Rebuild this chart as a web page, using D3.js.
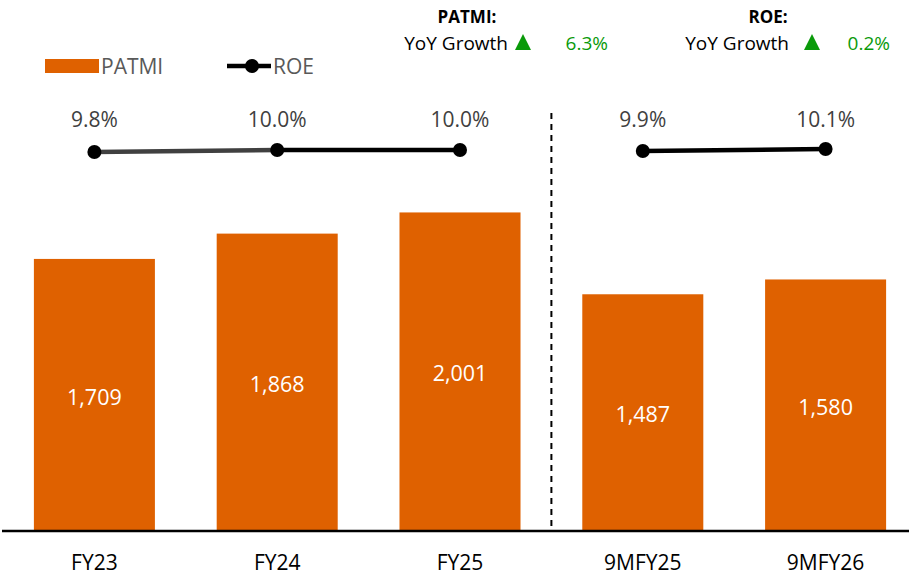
<!DOCTYPE html>
<html>
<head>
<meta charset="utf-8">
<script src="https://cdn.jsdelivr.net/npm/d3@7"></script>
<style>
  html, body { margin: 0; padding: 0; background: #fff; }
  svg { display: block; font-family: "Open Sans", sans-serif; }
</style>
</head>
<body>
<svg id="chart" width="909" height="576"></svg>
<script>
// Periods, PATMI (bars) and ROE (line, %)
const categories = ["FY23", "FY24", "FY25", "9MFY25", "9MFY26"];
const patmi = [1709, 1868, 2001, 1487, 1580];
const roe = [9.8, 10.0, 10.0, 9.9, 10.1];
// ROE line segments: [from index, to index, colour]
const roeSegments = [[0, 1, "#404040"], [1, 2, "#000000"], [3, 4, "#000000"]];
// Headline growth figures
const growthTitles = ["PATMI:", "ROE:"];
const growthLabels = ["YoY Growth", "YoY Growth"];
const growthValues = ["6.3%", "0.2%"];

const svg = d3.select("#chart");
const ORANGE = "#DF6100";
const GREEN = "#0A9A0A";

const x = d3.scaleBand().domain(categories).range([3, 917]).paddingInner(0.338).paddingOuter(0.169);
const y = d3.scaleLinear().domain([0, 3000]).range([531, 53.4]);
const yRoe = d3.scaleLinear().domain([8, 12]).range([170, 130]);
const cx = c => x(c) + x.bandwidth() / 2;

// Bars
svg.append("g").selectAll("rect").data(categories).join("rect")
  .attr("x", c => x(c))
  .attr("y", (c, i) => y(patmi[i]))
  .attr("width", x.bandwidth())
  .attr("height", (c, i) => y(0) - y(patmi[i]))
  .attr("fill", ORANGE);

// Bar value labels
svg.append("g").selectAll("text").data(categories).join("text")
  .attr("x", c => cx(c))
  .attr("y", (c, i) => (y(patmi[i]) + y(0)) / 2)
  .attr("dy", "0.45em")
  .attr("text-anchor", "middle")
  .attr("fill", "#fff")
  .attr("font-size", 21.5)
  .text((c, i) => d3.format(",")(patmi[i]));

// Baseline axis
const axis = svg.append("g").attr("transform", `translate(0,${y(0)})`)
  .call(d3.axisBottom(x).tickSize(0).tickPadding(24));
axis.select(".domain").attr("stroke", "#000").attr("stroke-width", 2.5).attr("d", "M2,0H909");
axis.selectAll("text").attr("font-size", 21).attr("fill", "#000")
  .attr("font-family", "'Open Sans', sans-serif");

// Divider between full-year and nine-month periods
const divX = (cx("FY25") + cx("9MFY25")) / 2;
svg.append("line")
  .attr("x1", divX).attr("x2", divX)
  .attr("y1", 113).attr("y2", y(0) - 1)
  .attr("stroke", "#000").attr("stroke-width", 2)
  .attr("stroke-dasharray", "6,5");

// ROE line
svg.append("g").selectAll("line").data(roeSegments).join("line")
  .attr("x1", d => cx(categories[d[0]]))
  .attr("y1", d => yRoe(roe[d[0]]))
  .attr("x2", d => cx(categories[d[1]]))
  .attr("y2", d => yRoe(roe[d[1]]))
  .attr("stroke", d => d[2])
  .attr("stroke-width", 4.5);

svg.append("g").selectAll("circle").data(categories).join("circle")
  .attr("cx", c => cx(c))
  .attr("cy", (c, i) => yRoe(roe[i]))
  .attr("r", 7)
  .attr("fill", "#000");

svg.append("g").selectAll("text").data(categories).join("text")
  .attr("x", c => cx(c))
  .attr("y", 127)
  .attr("text-anchor", "middle")
  .attr("fill", "#404040")
  .attr("font-size", 21)
  .text((c, i) => d3.format(".1f")(roe[i]) + "%");

// Legend
const legend = svg.append("g").attr("font-size", 21).attr("fill", "#595959");
legend.append("rect").attr("x", 45).attr("y", 59).attr("width", 54).attr("height", 14).attr("fill", ORANGE);
legend.append("text").attr("x", 101).attr("y", 74).text("PATMI");
legend.append("line").attr("x1", 227).attr("x2", 271).attr("y1", 66).attr("y2", 66)
  .attr("stroke", "#000").attr("stroke-width", 4.5);
legend.append("circle").attr("cx", 252).attr("cy", 66).attr("r", 7).attr("fill", "#000");
legend.append("text").attr("x", 273).attr("y", 74).text("ROE");

// Growth headers: title centre, label right edge, arrow centre, value right edge
const headerLayout = [
  { title: 467, label: 508, arrow: 523, value: 608 },
  { title: 768, label: 789, arrow: 812, value: 890 }
];
growthTitles.forEach((t, i) => {
  const p = headerLayout[i];
  const grp = svg.append("g");
  grp.append("text").attr("x", p.title).attr("y", 23).attr("text-anchor", "middle")
    .attr("font-size", 17).attr("font-weight", "bold").attr("fill", "#000").text(t);
  grp.append("text").attr("x", p.label).attr("y", 50).attr("text-anchor", "end")
    .attr("font-size", 19).attr("fill", "#000").text(growthLabels[i]);
  grp.append("path")
    .attr("d", `M${p.arrow - 8},50L${p.arrow + 8},50L${p.arrow},34Z`)
    .attr("fill", GREEN);
  grp.append("text").attr("x", p.value).attr("y", 50).attr("text-anchor", "end")
    .attr("font-size", 19).attr("fill", GREEN).text(growthValues[i]);
});
</script>
</body>
</html>
